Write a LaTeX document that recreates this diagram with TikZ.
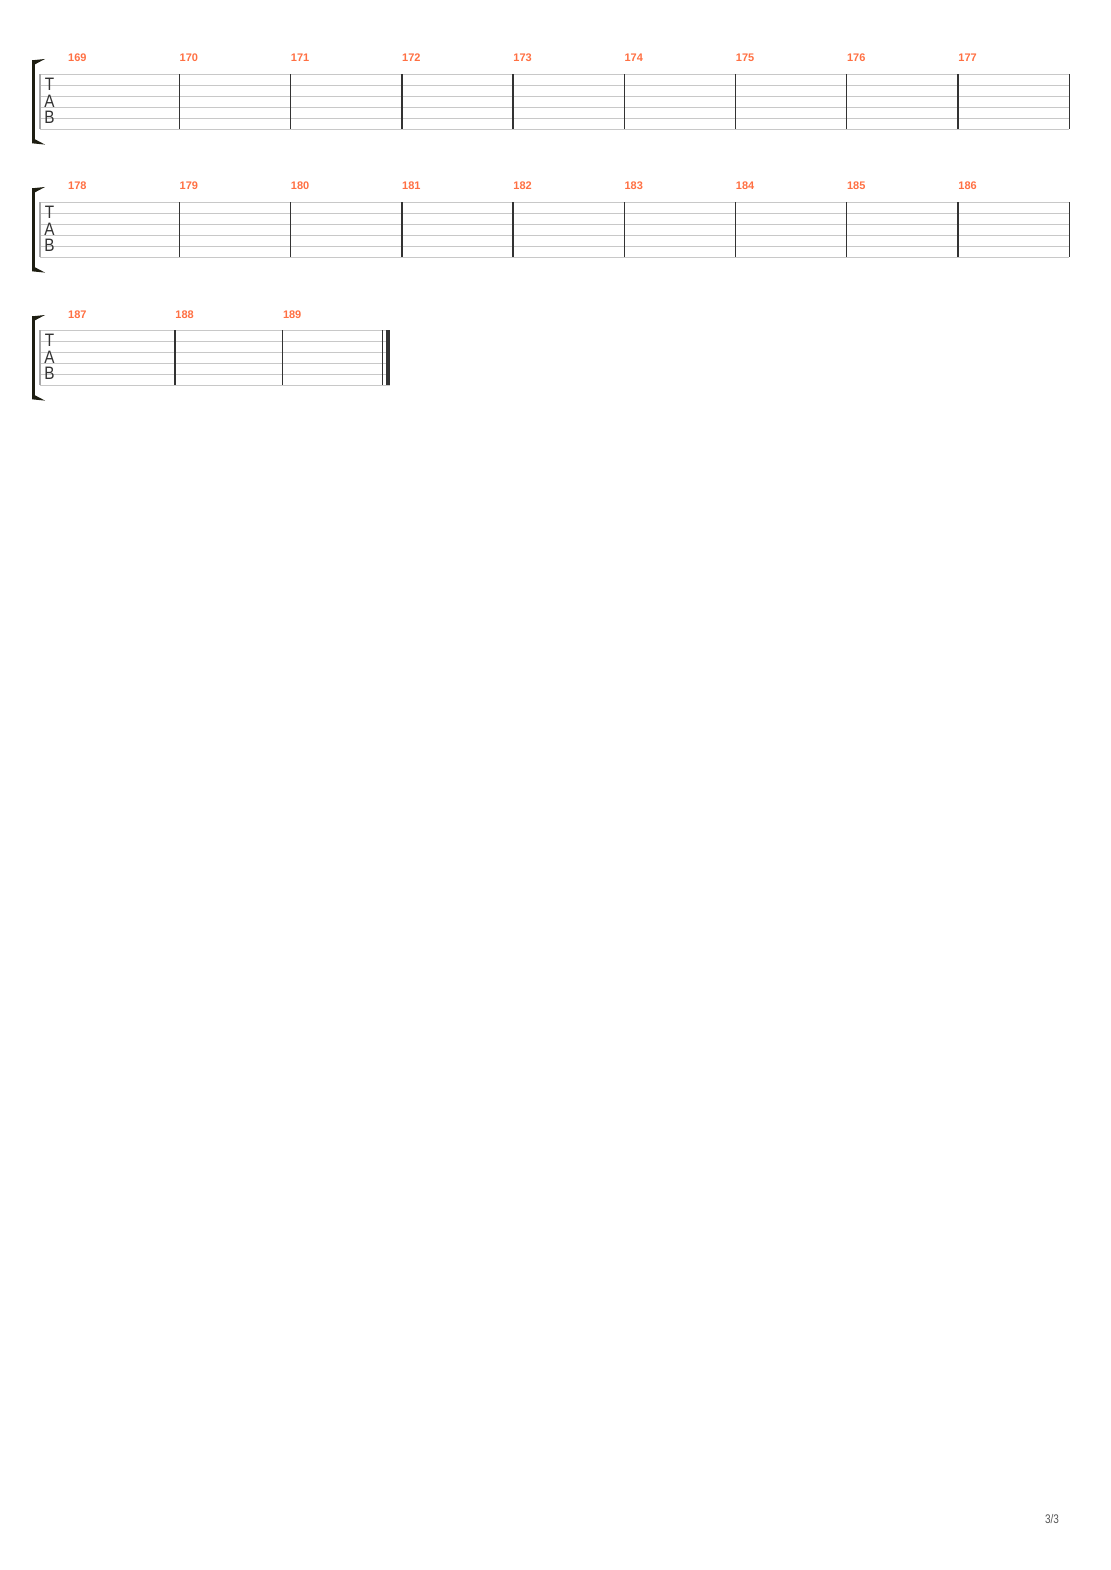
\documentclass[tikz,border=0pt]{standalone}
\usepackage{fontspec}
\setmainfont{Liberation Sans}
\definecolor{numorange}{HTML}{FF7043}
\definecolor{staffgray}{HTML}{C8C8C8}
\definecolor{leftgray}{HTML}{A8A8A8}
\definecolor{barblack}{HTML}{333333}
\definecolor{brackcol}{HTML}{1E1E12}
\definecolor{pagegray}{HTML}{555555}
\begin{document}
\begin{tikzpicture}[x=1pt,y=-1pt,
  staffline/.style={staffgray, line width=1pt},
  leftline/.style={leftgray, line width=1.6pt},
  barline/.style={barblack, line width=1.4pt},
  mnum/.style={anchor=base west, inner sep=0pt, text=numorange, font=\fontsize{11}{11}\selectfont\bfseries},
  tabletter/.style={anchor=base, inner sep=0pt, text height=12pt, text depth=0pt, text=barblack, font=\fontsize{18}{18}\selectfont},
  pagenum/.style={anchor=base, inner sep=0pt, text=pagegray, font=\fontsize{12.5}{12.5}\selectfont},
]
\useasboundingbox[fill=white] (0,0) rectangle (1110,1570);

% staves: index / top line y / end x
\foreach \s/\yy/\xend in {1/74.3/1069.2, 2/202.3/1069.2, 3/330.3/390} {
  \foreach \k in {0,...,5}
    \draw[staffline] (40,{\yy+11*\k}) -- (\xend,{\yy+11*\k});
  \draw[leftline] (39.7,\yy) -- (39.7,{\yy+55});
  % bracket
  \pgfmathsetmacro{\c}{\yy+27.5}
  \fill[brackcol] (32,{\c-41.5}) rectangle (35,{\c+41.5});
  \fill[brackcol] (32,{\c-41.5}) -- (45,{\c-42.8}) -- (35,{\c-37.5}) -- (32,{\c-37.5}) -- cycle;
  \fill[brackcol] (32,{\c+41.5}) -- (45,{\c+42.8}) -- (35,{\c+37.5}) -- (32,{\c+37.5}) -- cycle;
  % TAB
  \node[tabletter] (T\s) at (49.5,{\yy+16.2}) {\scalebox{0.85}[1]{T}};
  \node[tabletter] (A\s) at (49.5,{\yy+33.2}) {\scalebox{0.85}[1]{A}};
  \node[tabletter] (B\s) at (49.5,{\yy+49})   {\scalebox{0.85}[1]{B}};
}

% barlines staves 1 and 2
\foreach \yy in {74.3, 202.3}
  \foreach \x in {179.3, 290.5, 401.8, 513, 624.2, 735.5, 846.7, 958, 1069.2}
    \draw[barline] (\x,\yy) -- (\x,{\yy+55});

% measure numbers staff 1
\foreach \n/\x in {169/68, 170/179.5, 171/290.7, 172/402, 173/513.2, 174/624.4, 175/735.7, 176/846.9, 177/958.2}
  \node[mnum] (m\n) at (\x,62) {\n};
% measure numbers staff 2
\foreach \n/\x in {178/68, 179/179.5, 180/290.7, 181/402, 182/513.2, 183/624.4, 184/735.7, 185/846.9, 186/958.2}
  \node[mnum] (m\n) at (\x,190) {\n};
% staff 3
\foreach \x in {175, 282.3}
  \draw[barline] (\x,330.3) -- (\x,385.3);
\draw[barline] (382.7,330.3) -- (382.7,385.3);
\fill[barblack] (385.6,330.3) rectangle (390,385.3);
\foreach \n/\x in {187/68, 188/175.2, 189/282.8}
  \node[mnum] (m\n) at (\x,318) {\n};

% page number
\node[pagenum] (page) at (1052,1523) {\scalebox{0.8}[1]{3/3}};
\end{tikzpicture}
\end{document}
